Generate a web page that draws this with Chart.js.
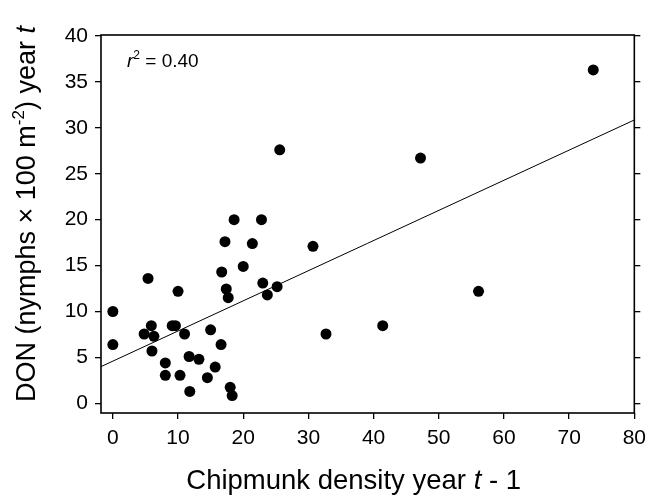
<!DOCTYPE html>
<html>
<head>
<meta charset="utf-8">
<script src="https://cdn.jsdelivr.net/npm/chart.js@4/dist/chart.umd.min.js"></script>
<style>
  html, body { margin: 0; padding: 0; background: #fff; }
  #wrap { width: 653px; height: 502px; }
</style>
</head>
<body>
<div id="wrap"><canvas id="c" width="653" height="502"></canvas></div>
<script>
// Chipmunk density in year t-1 (x) and DON in year t (y)
const chipmunkDensity = [0, 0, 5.4, 4.8, 5.9, 6.3, 6.0, 8.05, 8.05, 9.1, 9.6, 10.0, 10.3, 11.0, 11.7, 11.8,
  13.2, 14.5, 15.0, 15.7, 16.6, 16.7, 17.2, 17.4, 17.7, 18.0, 18.3, 18.6, 20.0, 21.4, 22.8, 23.0, 23.7,
  25.2, 25.6, 30.7, 32.7, 41.4, 47.2, 56.1, 73.7];
const donValues = [10.0, 6.4, 13.6, 7.55, 8.45, 7.3, 5.7, 4.4, 3.05, 8.45, 8.45, 12.2, 3.05, 7.55, 5.1, 1.3,
  4.8, 2.8, 8.0, 3.95, 6.4, 14.3, 17.6, 12.45, 11.5, 1.75, 0.85, 20.0, 14.9, 17.4, 20.0, 13.1, 11.8,
  12.7, 27.6, 17.1, 7.55, 8.45, 26.7, 12.2, 36.3];
// Fitted regression line end points
const trendX = [-1.82, 80];
const trendY = [4.0, 30.85];
const xTicks = [0, 10, 20, 30, 40, 50, 60, 70, 80];
const yTicks = [0, 5, 10, 15, 20, 25, 30, 35, 40];
const rSquaredLabel = "0.40";

const FONT = "'Liberation Sans', Arial, sans-serif";

const pts = chipmunkDensity.map((x, i) => ({ x: x, y: donValues[i] }));
const trend = trendX.map((x, i) => ({ x: x, y: trendY[i] }));

const decor = {
  id: 'decor',
  afterDraw(chart) {
    const ctx = chart.ctx;
    const a = chart.chartArea;
    ctx.save();
    // frame
    ctx.strokeStyle = '#000';
    ctx.lineWidth = 1.6;
    ctx.strokeRect(a.left, a.top, a.right - a.left, a.bottom - a.top);
    ctx.fillStyle = '#000';
    ctx.textBaseline = 'alphabetic';
    // r^2 annotation
    let x = 127, y = 67;
    ctx.font = "italic 19px " + FONT;
    ctx.fillText('r', x, y);
    x += ctx.measureText('r').width;
    ctx.font = "12px " + FONT;
    ctx.fillText('2', x, y - 8);
    x += ctx.measureText('2').width;
    ctx.font = "19px " + FONT;
    ctx.fillText(' = ' + rSquaredLabel, x, y);

    // X title with italic t
    const xParts = [
      { t: 'Chipmunk density year ', f: "27.5px " + FONT, dy: 0 },
      { t: 't', f: "italic 27.5px " + FONT, dy: 0 },
      { t: ' - 1', f: "27.5px " + FONT, dy: 0 }
    ];
    drawParts(ctx, xParts, (a.left + a.right) / 2 - 14, 489);

    // Y title rotated
    const yParts = [
      { t: 'DON (nymphs \u00d7 100 m', f: "27px " + FONT, dy: 0 },
      { t: '-2', f: "17px " + FONT, dy: -11 },
      { t: ') year ', f: "27px " + FONT, dy: 0 },
      { t: 't', f: "italic 27px " + FONT, dy: 0 }
    ];
    ctx.save();
    ctx.translate(35, 214);
    ctx.rotate(-Math.PI / 2);
    drawParts(ctx, yParts, 0, 0);
    ctx.restore();
    ctx.restore();
  }
};

function drawParts(ctx, parts, cx, by) {
  let total = 0;
  parts.forEach(p => { ctx.font = p.f; p.w = ctx.measureText(p.t).width; total += p.w; });
  let x = cx - total / 2;
  parts.forEach(p => { ctx.font = p.f; ctx.fillText(p.t, x, by + p.dy); x += p.w; });
}

function setTicks(list) {
  return function (scale) { scale.ticks = list.map(v => ({ value: v })); };
}

const gridOpts = {
  drawOnChartArea: false,
  drawTicks: true,
  tickLength: 6,
  color: '#000',
  lineWidth: 1.3
};

new Chart(document.getElementById('c'), {
  data: {
    datasets: [
      {
        type: 'scatter',
        data: pts,
        pointRadius: 5.5,
        pointBackgroundColor: '#000',
        pointBorderWidth: 0,
        pointHoverRadius: 5.5,
        order: 1
      },
      {
        type: 'line',
        data: trend,
        borderColor: '#000',
        borderWidth: 1,
        pointRadius: 0,
        fill: false,
        tension: 0,
        order: 2
      }
    ]
  },
  options: {
    responsive: false,
    animation: false,
    devicePixelRatio: 1,
    layout: { padding: { top: 35, left: 0, right: 0, bottom: 0 } },
    plugins: { legend: { display: false }, tooltip: { enabled: false } },
    scales: {
      x: {
        type: 'linear',
        position: 'bottom',
        min: -1.82,
        max: 80,
        afterBuildTicks: setTicks(xTicks),
        afterFit(s) { s.height = 89; },
        grid: gridOpts,
        border: { display: false },
        ticks: { color: '#000', font: { family: FONT, size: 21 }, padding: 7, maxRotation: 0 }
      },
      y: {
        type: 'linear',
        position: 'left',
        min: -1.05,
        max: 40.1,
        afterBuildTicks: setTicks(yTicks),
        afterFit(s) { s.width = 101; },
        grid: gridOpts,
        border: { display: false },
        ticks: { color: '#000', font: { family: FONT, size: 21 }, padding: 7 }
      },
      y2: {
        type: 'linear',
        position: 'right',
        min: -1.05,
        max: 40.1,
        afterBuildTicks: setTicks(yTicks),
        afterFit(s) { s.width = 13; },
        grid: gridOpts,
        border: { display: false },
        ticks: { display: false }
      }
    }
  },
  plugins: [decor]
});
</script>
</body>
</html>
